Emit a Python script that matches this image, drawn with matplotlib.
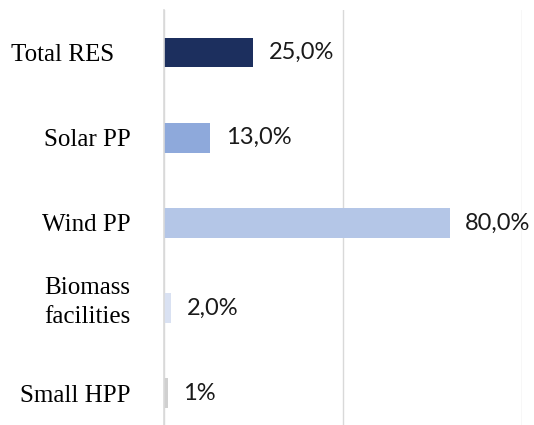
import matplotlib
matplotlib.use("Agg")
import matplotlib.pyplot as plt
from matplotlib.transforms import ScaledTranslation

categories = ["Total RES", "Solar PP", "Wind PP", "Biomass\nfacilities", "Small HPP"]
values = [25.0, 13.0, 80.0, 2.0, 1.0]
value_labels = ["25,0%", "13,0%", "80,0%", "2,0%", "1%"]
colors = ["#1C2F5E", "#8EA9DB", "#B4C6E7", "#D9E1F2", "#D0D0D0"]

fig = plt.figure(figsize=(5.34, 4.25), dpi=100)
ax = fig.add_axes([164/534, 0.0, (521.5-164)/534, 1 - 10/425])

pos = list(range(len(categories)))
ax.barh(pos, values, height=0.35, color=colors, zorder=2)
ax.set_xlim(0, 100)
ax.set_ylim(4.371, -0.499)

ax.set_xticks([0, 50, 100])
ax.set_xticklabels([])
ax.tick_params(axis="both", length=0)
ax.grid(axis="x", color="#D9D9D9", linewidth=1.0, zorder=0)

ax.set_yticks(pos)
ax.set_yticklabels(categories, fontfamily="Liberation Serif", fontsize=18, linespacing=1.42)
ax.tick_params(axis="y", pad=24)
labels = ax.get_yticklabels()
# the first label sits further left in the reference
labels[0].set_transform(labels[0].get_transform() + ScaledTranslation(-17/100, 0, fig.dpi_scale_trans))
# the two-line label sits slightly above its bar
labels[3].set_transform(labels[3].get_transform() + ScaledTranslation(0, 12/100, fig.dpi_scale_trans))

for s in ["top", "right", "bottom"]:
    ax.spines[s].set_visible(False)
ax.spines["left"].set_color("#D9D9D9")
ax.spines["left"].set_linewidth(1.2)

for p, v, lab in zip(pos, values, value_labels):
    ax.text(v + 4.3, p, lab, va="center", ha="left", fontsize=17,
            fontfamily="Lato", color="#1A1A1A", clip_on=False)

fig.savefig("out.png", dpi=100)
